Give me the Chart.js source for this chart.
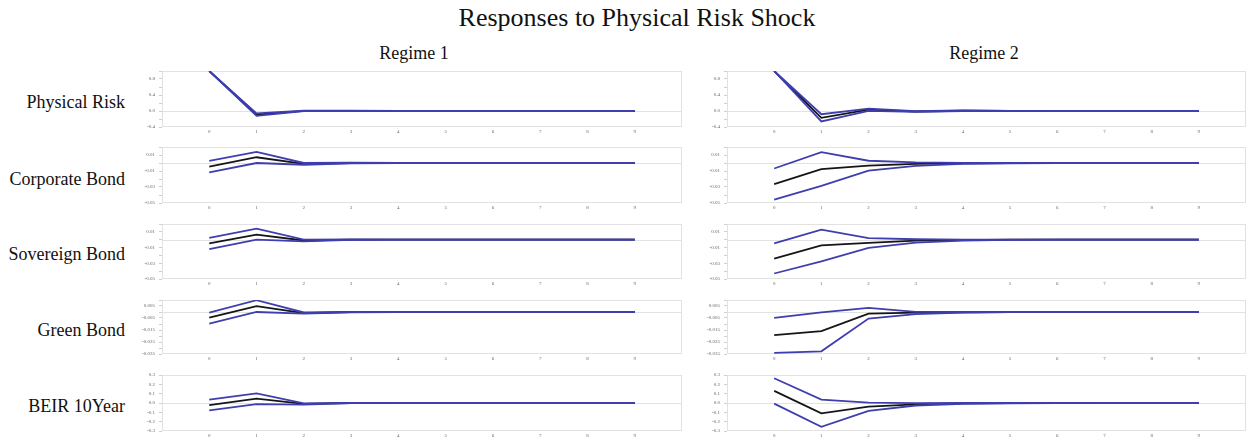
<!DOCTYPE html>
<html>
<head>
<meta charset="utf-8">
<script src="https://cdn.jsdelivr.net/npm/chart.js@4.4.1/dist/chart.umd.min.js"></script>
<style>
  html, body { margin: 0; padding: 0; background: #fff; }
  body { width: 1250px; height: 443px; position: relative; overflow: hidden;
         font-family: "Liberation Serif", "Times New Roman", serif; color: #111; }
  .t { position: absolute; white-space: nowrap; line-height: 1; }
  .c { transform: translate(-50%, -50%); }
  .r { transform: translate(-100%, -50%); }
  canvas { position: absolute; }
</style>
</head>
<body>
<div class="t c" style="left:637px; top:18px; font-size:26px;">Responses to Physical Risk Shock</div>
<div id="labels"></div>
<script>
// Horizons and panel titles
const horizons = [0, 1, 2, 3, 4, 5, 6, 7, 8, 9];
const regimes = ['Regime 1', 'Regime 2'];
const variables = ['Physical Risk', 'Corporate Bond', 'Sovereign Bond', 'Green Bond', 'BEIR 10Year'];

// Physical Risk responses (median, lower band, upper band)
const physR1Mid = [1.0, -0.09, 0.004, 0.003, 0.001, 0, 0, 0, 0, 0];
const physR1Lo  = [1.0, -0.12, -0.003, 0.000, 0.000, 0, 0, 0, 0, 0];
const physR1Hi  = [1.0, -0.06, 0.011, 0.006, 0.002, 0, 0, 0, 0, 0];
const physR2Mid = [1.0, -0.17, 0.035, -0.012, 0.006, 0.001, 0, 0, 0, 0];
const physR2Lo  = [1.0, -0.26, 0.005, -0.020, 0.000, -0.001, 0, 0, 0, 0];
const physR2Hi  = [1.0, -0.08, 0.060, -0.005, 0.012, 0.003, 0, 0, 0, 0];

// Corporate Bond responses
const corpR1Mid = [-0.0045, 0.0072, -0.0010, 0.0000, 0, 0, 0, 0, 0, 0];
const corpR1Lo  = [-0.0117, 0.0000, -0.0022, -0.0003, 0, 0, 0, 0, 0, 0];
const corpR1Hi  = [0.0027, 0.0140, 0.0000, 0.0003, 0, 0, 0, 0, 0, 0];
const corpR2Mid = [-0.0265, -0.0077, -0.0032, -0.0010, -0.0003, 0, 0, 0, 0, 0];
const corpR2Lo  = [-0.0457, -0.0285, -0.0096, -0.0035, -0.0010, -0.0003, 0, 0, 0, 0];
const corpR2Hi  = [-0.0069, 0.0136, 0.0028, 0.0008, 0.0002, 0, 0, 0, 0, 0];

// Sovereign Bond responses
const sovR1Mid = [-0.0048, 0.0064, -0.0010, 0.0000, 0, 0, 0, 0, 0, 0];
const sovR1Lo  = [-0.0120, 0.0000, -0.0020, -0.0003, 0, 0, 0, 0, 0, 0];
const sovR1Hi  = [0.0024, 0.0140, 0.0000, 0.0003, 0, 0, 0, 0, 0, 0];
const sovR2Mid = [-0.0240, -0.0072, -0.0040, -0.0012, -0.0004, 0, 0, 0, 0, 0];
const sovR2Lo  = [-0.0430, -0.0276, -0.0104, -0.0038, -0.0012, -0.0003, 0, 0, 0, 0];
const sovR2Hi  = [-0.0048, 0.0128, 0.0020, 0.0006, 0.0001, 0, 0, 0, 0, 0];

// Green Bond responses
const greenR1Mid = [-0.0047, 0.0049, -0.0010, 0.0000, 0, 0, 0, 0, 0, 0];
const greenR1Lo  = [-0.0097, 0.0000, -0.0014, -0.0002, 0, 0, 0, 0, 0, 0];
const greenR1Hi  = [-0.0005, 0.0098, -0.0004, 0.0001, 0, 0, 0, 0, 0, 0];
const greenR2Mid = [-0.0193, -0.0160, -0.0013, -0.0006, -0.0002, 0, 0, 0, 0, 0];
const greenR2Lo  = [-0.0340, -0.0328, -0.0055, -0.0018, -0.0005, -0.0001, 0, 0, 0, 0];
const greenR2Hi  = [-0.0049, -0.0003, 0.0035, 0.0001, 0.0000, 0, 0, 0, 0, 0];

// BEIR 10Year responses
const beirR1Mid = [-0.023, 0.047, -0.010, 0.000, 0, 0, 0, 0, 0, 0];
const beirR1Lo  = [-0.078, -0.013, -0.017, -0.002, 0, 0, 0, 0, 0, 0];
const beirR1Hi  = [0.037, 0.104, -0.003, 0.002, 0, 0, 0, 0, 0, 0];
const beirR2Mid = [0.130, -0.110, -0.038, -0.015, -0.005, -0.002, 0, 0, 0, 0];
const beirR2Lo  = [-0.007, -0.256, -0.085, -0.027, -0.010, -0.004, -0.001, 0, 0, 0];
const beirR2Hi  = [0.265, 0.037, 0.003, -0.001, 0.000, 0, 0, 0, 0, 0];

// Y axis ranges [min, max, step] and the tick labels shown on each row
const physAxis  = [-0.4, 1.0, 0.2];
const bondAxis  = [-0.05, 0.02, 0.01];
const greenAxis = [-0.035, 0.01, 0.005];
const beirAxis  = [-0.3, 0.3, 0.1];
const physTickLabels  = ['-0.4', '0.0', '0.4', '0.8'];
const bondTickLabels  = ['-0.05', '-0.03', '-0.01', '0.01'];
const greenTickLabels = ['-0.035', '-0.025', '-0.015', '-0.005', '0.005'];
const beirTickLabels  = ['-0.3', '-0.2', '-0.1', '0.0', '0.1', '0.2', '0.3'];

const rows = [
  { axis: physAxis,  labels: physTickLabels,  dec: 1, series: [[physR1Mid, physR1Lo, physR1Hi], [physR2Mid, physR2Lo, physR2Hi]] },
  { axis: bondAxis,  labels: bondTickLabels,  dec: 2, series: [[corpR1Mid, corpR1Lo, corpR1Hi], [corpR2Mid, corpR2Lo, corpR2Hi]] },
  { axis: bondAxis,  labels: bondTickLabels,  dec: 2, series: [[sovR1Mid, sovR1Lo, sovR1Hi], [sovR2Mid, sovR2Lo, sovR2Hi]] },
  { axis: greenAxis, labels: greenTickLabels, dec: 3, series: [[greenR1Mid, greenR1Lo, greenR1Hi], [greenR2Mid, greenR2Lo, greenR2Hi]] },
  { axis: beirAxis,  labels: beirTickLabels,  dec: 1, series: [[beirR1Mid, beirR1Lo, beirR1Hi], [beirR2Mid, beirR2Lo, beirR2Hi]] }
];

// Page layout: plot-area edges of each column and row
const colLeft = [162, 727], colRight = [682, 1246];
const rowTop = [68, 144, 221, 297, 372], rowBottom = [127, 203, 279, 354, 431];
const rowLabelY = [102, 179, 254, 330, 406];
const Y_AXIS_W = 30, X_AXIS_H = 12, PAD_TOP = 4, PAD_RIGHT = 4;

const BLUE = '#3e3eae', BLACK = '#151515';
const FONT = '"Liberation Serif", "Times New Roman", serif';

// Text labels: regime headers and variable names
const labelBox = document.getElementById('labels');
regimes.forEach((name, i) => {
  const d = document.createElement('div');
  d.className = 't c';
  d.style.cssText = `left:${[414, 984][i]}px; top:53px; font-size:18px;`;
  d.textContent = name;
  labelBox.appendChild(d);
});
variables.forEach((name, i) => {
  const d = document.createElement('div');
  d.className = 't r';
  d.style.cssText = `left:125px; top:${rowLabelY[i]}px; font-size:18px;`;
  d.textContent = name;
  labelBox.appendChild(d);
});

// Light frame around each plot and a zero reference line
const framePlugin = {
  id: 'frame',
  beforeDatasetsDraw(chart) {
    const { ctx, chartArea: a, scales: { y } } = chart;
    ctx.save();
    ctx.strokeStyle = '#e2e2e2';
    ctx.lineWidth = 1;
    ctx.strokeRect(a.left + 0.5, a.top + 0.5, a.width - 1, a.height - 1);
    const z = Math.round(y.getPixelForValue(0)) + 0.5;
    ctx.beginPath();
    ctx.moveTo(a.left, z);
    ctx.lineTo(a.right, z);
    ctx.stroke();
    ctx.restore();
  }
};

function lineSet(values, color, order) {
  return {
    data: horizons.map((h, i) => ({ x: h, y: values[i] })),
    borderColor: color,
    borderWidth: 1.8,
    pointRadius: 0,
    tension: 0,
    fill: false,
    order: order
  };
}

rows.forEach((row, r) => {
  [0, 1].forEach(c => {
    const [mid, lo, hi] = row.series[c];
    const w = colRight[c] - colLeft[c] + Y_AXIS_W + PAD_RIGHT;
    const h = rowBottom[r] - rowTop[r] + PAD_TOP + X_AXIS_H;
    const cv = document.createElement('canvas');
    cv.width = w; cv.height = h;
    cv.style.left = (colLeft[c] - Y_AXIS_W) + 'px';
    cv.style.top = (rowTop[r] - PAD_TOP) + 'px';
    cv.style.width = w + 'px'; cv.style.height = h + 'px';
    document.body.appendChild(cv);

    new Chart(cv, {
      type: 'line',
      data: { datasets: [lineSet(mid, BLACK, 2), lineSet(lo, BLUE, 1), lineSet(hi, BLUE, 1)] },
      options: {
        responsive: false,
        animation: false,
        events: [],
        layout: { padding: { top: PAD_TOP, right: PAD_RIGHT, left: 0, bottom: 0 } },
        plugins: { legend: { display: false }, tooltip: { enabled: false } },
        scales: {
          x: {
            type: 'linear', min: -1, max: 10,
            afterBuildTicks: s => { s.ticks = horizons.map(v => ({ value: v })); },
            afterFit: s => { s.height = X_AXIS_H; },
            grid: { display: false, drawTicks: false },
            border: { display: false },
            ticks: { padding: 2, color: '#666', font: { family: FONT, size: 5 }, maxRotation: 0,
                     callback: v => String(v) }
          },
          y: {
            min: row.axis[0], max: row.axis[1],
            afterFit: s => { s.width = Y_AXIS_W; },
            grid: { display: true, drawOnChartArea: false, drawTicks: true, tickLength: 3, color: '#d0d0d0' },
            border: { display: false },
            ticks: {
              stepSize: row.axis[2], padding: 4, color: '#666', autoSkip: false,
              font: { family: FONT, size: 5 },
              callback: v => {
                const t = (Math.abs(v) < 1e-9 ? 0 : v).toFixed(row.dec);
                return row.labels.includes(t) ? t : '';
              }
            }
          }
        }
      },
      plugins: [framePlugin]
    });
  });
});
</script>
</body>
</html>
